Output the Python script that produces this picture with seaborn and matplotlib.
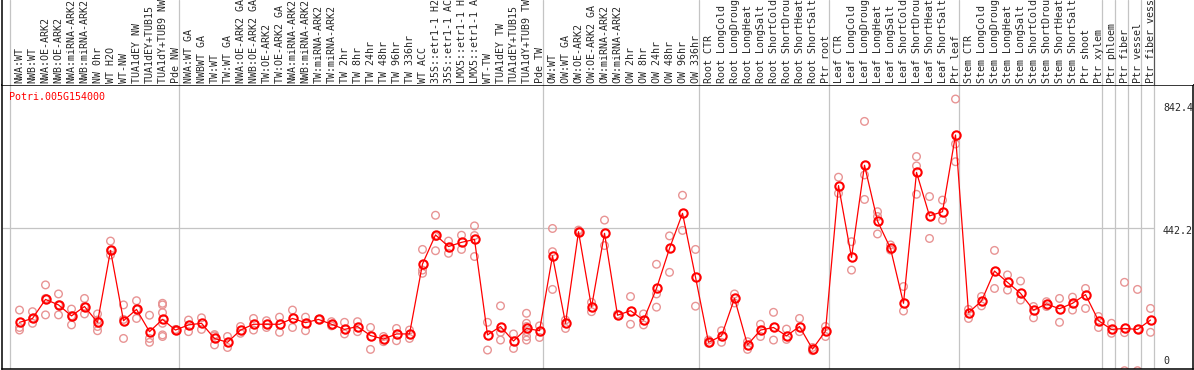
import matplotlib
matplotlib.use("Agg")
import matplotlib.pyplot as plt
import pandas as pd
import seaborn as sns

gene = "Potri.005G154000"

# Sample names as printed on the chart (cut to 14 characters), one list per block
nw_labels = ["NWA:WT", "NWB:WT", "NWA:OE-ARK2", "NWB:OE-ARK2", "NWA:miRNA-ARK2", "NWB:miRNA-ARK2",
             "NW 0hr", "WT H2O", "WT-NW", "TUA1dEY NW", "TUA1dEY+TUB15", "TUA1dY+TUB9 NW", "Pde NW"]
tw_labels = ["NWA:WT GA", "NWBWT GA", "TW:WT", "TW:WT GA", "NWA:OE-ARK2 GA", "NWB:OE-ARK2 GA",
             "TW:OE-ARK2", "TW:OE-ARK2 GA", "NWA:miRNA-ARK2", "NWB:miRNA-ARK2", "TW:miRNA-ARK2",
             "TW:miRNA-ARK2", "TW 2hr", "TW 8hr", "TW 24hr", "TW 48hr", "TW 96hr", "TW 336hr",
             "WT ACC", "35S::etr1-1 H2", "35S::etr1-1 AC", "LMX5::etr1-1 H", "LMX5::etr1-1 A",
             "WT-TW", "TUA1dEY TW", "TUA1dEY+TUB15", "TUA1dY+TUB9 TW", "Pde TW"]
ow_labels = ["OW:WT", "OW:WT GA", "OW:OE-ARK2", "OW:OE-ARK2 GA", "OW:miRNA-ARK2", "OW:miRNA-ARK2",
             "OW 2hr", "OW 8hr", "OW 24hr", "OW 48hr", "OW 96hr", "OW 336hr"]
root_labels = ["Root CTR", "Root LongCold", "Root LongDroug", "Root LongHeat", "Root LongSalt",
               "Root ShortCold", "Root ShortDrou", "Root ShortHeat", "Root ShortSalt", "Ptr root"]
leaf_labels = ["Leaf CTR", "Leaf LongCold", "Leaf LongDroug", "Leaf LongHeat", "Leaf LongSalt",
               "Leaf ShortCold", "Leaf ShortDrou", "Leaf ShortHeat", "Leaf ShortSalt", "Ptr leaf"]
stem_labels = ["Stem CTR", "Stem LongCold", "Stem LongDroug", "Stem LongHeat", "Stem LongSalt",
               "Stem ShortCold", "Stem ShortDrou", "Stem ShortHeat", "Stem ShortSalt", "Ptr shoot",
               "Ptr xylem"]
cell_labels = ["Ptr phloem", "Ptr fiber", "Ptr vessel", "Ptr fiber vess"]

# Mean expression per sample
nw_mean = [150, 162, 221, 204, 170, 199, 150, 373, 155, 190, 121, 159, 126]
tw_mean = [142, 147, 100, 88, 126, 144, 144, 144, 162, 149, 159, 144, 128, 137,
           109, 98, 114, 114, 331, 421, 385, 398, 407, 111, 137, 92, 131, 124]
ow_mean = [356, 147, 431, 197, 426, 172, 186, 157, 255, 379, 488, 290]
root_mean = [88, 108, 224, 80, 126, 134, 108, 137, 67, 123]
leaf_mean = [574, 351, 637, 464, 379, 209, 615, 480, 493, 731]
stem_mean = [180, 216, 309, 274, 240, 188, 207, 192, 209, 236, 155]
cell_mean = [128, 131, 128, 157]

# Replicate values per sample
nw_reps = [[188, 134, 126], [183, 147, 162], [266, 224, 173], [238, 204, 173], [191, 170, 142],
           [224, 199, 176], [176, 157, 137, 124], [402, 373, 359], [204, 159, 100], [217, 190, 162],
           [172, 100, 88], [209, 204, 180, 147, 111, 106], [128, 124]]
tw_reps = [[157, 121], [164, 128], [108, 112, 80], [106, 72], [137, 116], [162, 126], [155, 134],
           [166, 119], [188, 134], [166, 124], [159], [152, 139], [150, 114], [152, 121], [134, 66],
           [106, 90], [131, 93], [126, 100], [376, 312, 302], [482, 416, 372], [402, 364],
           [420, 376], [449, 419, 354], [150, 64], [201, 119, 95], [114, 69],
           [178, 147, 137, 121, 106, 95], [139, 103]]
ow_reps = [[441, 369, 252], [157, 131], [436, 431], [212, 183], [467, 388], [175], [230, 144],
           [176, 142], [330, 238, 197], [418, 305], [544, 435], [376, 200]]
root_reps = [[95, 85], [124, 88], [238, 210], [90, 66], [144, 106], [181, 95], [129, 97],
             [162, 121], [72, 62], [137, 106]]
leaf_reps = [[600, 550], [400, 312], [773, 607, 531], [493, 478, 424], [390, 374], [261, 185],
             [664, 635, 547], [540, 410], [529, 467], [842.4, 703, 648]]
stem_reps = [[190, 162], [230, 201], [373, 255], [297, 250], [278, 219], [199, 164], [214, 199],
             [224, 150], [228, 188], [255, 193], [168, 134]]
cell_reps = [[147, 116], [274, 118, 0], [252, 128, 0], [193, 119]]

blocks = [nw_labels, tw_labels, ow_labels, root_labels, leaf_labels, stem_labels,
          cell_labels[0:1], cell_labels[1:2], cell_labels[2:3], cell_labels[3:4]]

labels = nw_labels + tw_labels + ow_labels + root_labels + leaf_labels + stem_labels + cell_labels
means = nw_mean + tw_mean + ow_mean + root_mean + leaf_mean + stem_mean + cell_mean
reps = nw_reps + tw_reps + ow_reps + root_reps + leaf_reps + stem_reps + cell_reps
y_max = 842.4
y_mid = 442.2

mean_df = pd.DataFrame({"pos": range(len(labels)), "value": means})
rep_rows = [(i, v) for i, vals in enumerate(reps) for v in vals]
rep_df = pd.DataFrame(rep_rows, columns=["pos", "value"])

# block boundaries (the vertical grey lines)
edges = [0]
for b in blocks:
    edges.append(edges[-1] + len(b))
edge_x = [e - 0.73 for e in edges]

sns.set_style("white")
plt.rcParams["font.family"] = ["DejaVu Sans Mono"]
fs = 7.2
grid_col = "#c4c4c4"

W, H = 1194, 370
fig = plt.figure(figsize=(W / 100, H / 100), dpi=100)
ax = fig.add_axes([1.5 / W, 1.5 / H, 1191.5 / W, 283.5 / H])
lab = fig.add_axes([1.5 / W, 285 / H, 1191.5 / W, 85 / H], sharex=ax)

x_lo = -1.385
x_hi = x_lo + 1191.5 / 13
ax.set_xlim(x_lo, x_hi)
ax.set_ylim(6.8, 885.9)

# grid
for x in edge_x:
    ax.axvline(x, color=grid_col, lw=0.9, zorder=0)
ax.hlines(y_mid, x_lo, edge_x[-1], color=grid_col, lw=0.9, zorder=0)

# replicates
sns.scatterplot(data=rep_df, x="pos", y="value", ax=ax, marker="o", s=30,
                color="#e89494", linewidth=1.0, legend=False, zorder=2)
ax.collections[-1].set_facecolor("none")
ax.collections[-1].set_edgecolor("#e89494")

# mean line
sns.lineplot(data=mean_df, x="pos", y="value", ax=ax, color="red", lw=0.9, marker="o",
             markersize=6.0, markerfacecolor="none", markeredgecolor="red",
             markeredgewidth=1.5, zorder=3)

ax.set_xlabel("")
ax.set_ylabel("")
ax.set_xticks([])
ax.set_yticks([])
for s in ax.spines.values():
    s.set_visible(True)
    s.set_color("black")
    s.set_linewidth(1.1)

# value labels on the right
tr = ax.get_yaxis_transform()
lx = (1163 - 1.5) / 1191.5
ax.annotate("842.4", xy=(lx, y_max), xycoords=tr, xytext=(0, -8.7),
            textcoords="offset pixels", ha="left", va="center", fontsize=fs)
ax.annotate("442.2", xy=(lx, y_mid), xycoords=tr, xytext=(0, -2.6),
            textcoords="offset pixels", ha="left", va="center", fontsize=fs)
ax.text(lx, 0.025, "0", transform=ax.transAxes, ha="left", va="center", fontsize=fs)

# sample labels along the top
lab.set_ylim(0, 1)
for x in edge_x[:-1]:
    lab.axvline(x, color=grid_col, lw=0.9, zorder=0)
lab.axvline(edge_x[-1], color="#555555", lw=0.9, zorder=0)
for i, name in enumerate(labels):
    lab.text(i, 0.025, name, rotation=90, ha="center", va="bottom", fontsize=fs)
lab.set_xticks([])
lab.set_yticks([])
for k, s in lab.spines.items():
    s.set_visible(k == "left")
lab.spines["left"].set_color("black")
lab.spines["left"].set_linewidth(1.1)

fig.text(9.3 / W, 1 - 96.7 / H, gene, color="red", fontsize=fs, ha="left", va="center")

fig.savefig("out.png", dpi=100)
